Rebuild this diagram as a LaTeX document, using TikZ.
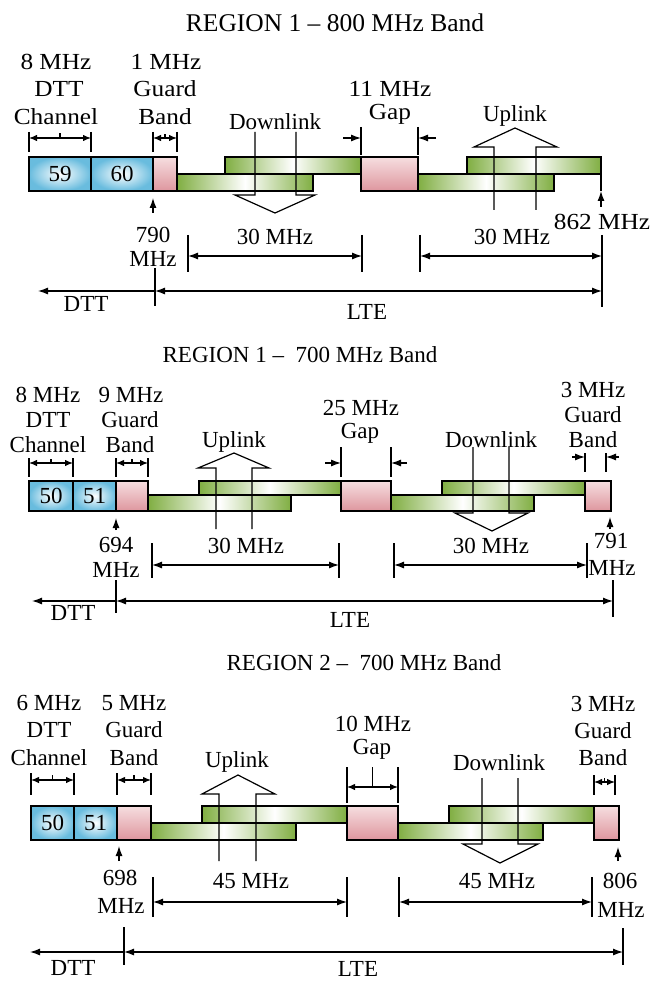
\documentclass[tikz,border=0pt]{standalone}
\usepackage{fontspec}
\setmainfont{Liberation Serif}
\usetikzlibrary{arrows.meta}
\definecolor{chblue}{RGB}{105,188,222}
\definecolor{gbpink}{RGB}{222,150,158}
\definecolor{gbpinkl}{RGB}{246,222,224}
\definecolor{bargreen}{RGB}{128,174,66}
\tikzset{
  lab/.style={inner sep=0pt, anchor=base, font=\fontsize{23}{27}\selectfont},
  labw/.style={lab, xscale=1.1, transform shape},
  ttl/.style={inner sep=0pt, anchor=base},
  thk/.style={line width=1.2pt},
  outl/.style={line width=1.2pt, draw=black},
  dbl/.style={line width=1.2pt, {Latex[length=10pt,width=7pt]}-{Latex[length=10pt,width=7pt]}},
  sdbl/.style={line width=1.2pt, {Latex[length=8pt,width=6.5pt]}-{Latex[length=8pt,width=6.5pt]}},
  sgl/.style={line width=1.2pt, -{Latex[length=10pt,width=7pt]}},
  hollow/.style={line width=1.2pt, line join=miter}
}
% channel box: name, x1, x2, ytop, ybot, text
\newcommand\chbox[6]{%
  \shade[inner color=white, outer color=chblue] (#2,#4) rectangle (#3,#5);
  \draw[outl] (#2,#4) rectangle (#3,#5);
  \node[inner sep=0pt, font=\fontsize{23}{27}\selectfont] (#1) at ({(#2+#3)/2},{(#4+#5)/2}) {#6};}
% pink box
\newcommand\pkbox[5]{%
  \shade[top color=gbpinkl, bottom color=gbpink] (#2,#4) rectangle (#3,#5);
  \draw[outl] (#2,#4) rectangle (#3,#5);
  \coordinate (#1) at ({(#2+#3)/2},{(#4+#5)/2});}
% green bar
\newcommand\gbar[5]{%
  \shade[left color=bargreen, right color=bargreen, middle color=white] (#2,#4) rectangle (#3,#5);
  \draw[outl] (#2,#4) rectangle (#3,#5);
  \coordinate (#1) at ({(#2+#3)/2},{(#4+#5)/2});}
% bracket with inner double arrow: name, xL, xR, ytop, ybot, yarr, ystub
\newcommand\brin[7]{%
  \coordinate (#1L) at (#2,#6); \coordinate (#1R) at (#3,#6);
  \draw[thk] (#2,#4)--(#2,#5); \draw[thk] (#3,#4)--(#3,#5);
  \draw[thk] ({(#2+#3)/2},#6)--({(#2+#3)/2},#7);
  \draw[sdbl] (#1L)--(#1R);}
% bracket with outer arrows: name, xL, xR, ytop, ybot, yarr, len
\newcommand\brout[7]{%
  \coordinate (#1L) at (#2,#6); \coordinate (#1R) at (#3,#6);
  \coordinate (#1LL) at ({#2-#7},#6); \coordinate (#1RR) at ({#3+#7},#6);
  \draw[thk] (#2,#4)--(#2,#5); \draw[thk] (#3,#4)--(#3,#5);
  \draw[sgl] (#1LL)--(#1L); \draw[sgl] (#1RR)--(#1R);}
% dimension line: name, xL, xR, ytop, ybotL, ybotR, yarr
\newcommand\dimlin[7]{%
  \coordinate (#1L) at (#2,#7); \coordinate (#1R) at (#3,#7);
  \draw[thk] (#2,#4)--(#2,#5); \draw[thk] (#3,#4)--(#3,#6);
  \draw[dbl] (#1L)--(#1R);}
\newcommand\lbl[4]{\node[lab] (#1) at (#2,#3) {#4};}
\newcommand\lblw[4]{\node[labw] (#1) at (#2,#3) {#4};}

\begin{document}
\begin{tikzpicture}[x=1pt,y=-1pt]
\useasboundingbox (0,0) rectangle (654,981);

%================ SECTION 1 =================
\node[ttl, font=\fontsize{25.5}{30}\selectfont] (t1) at (335,32) {REGION 1 – 800 MHz Band};

\gbar{la1}{177}{313}{174}{191}
\gbar{ua1}{225}{361}{157}{174}
\gbar{lb1}{418}{554}{174}{191}
\gbar{ub1}{467}{601}{157}{174}
\chbox{b59}{29}{91}{157}{191}{59}
\chbox{b60}{91}{153}{157}{191}{60}
\pkbox{g1}{153}{177}{157}{191}
\pkbox{gap1}{361}{418}{157}{191}

\brin{d1}{29}{91}{132}{152}{138}{133}
\brin{gb1}{153}{177}{132}{152}{138}{134}
\brout{gp1}{361}{418}{127}{155}{138}{18}

\lblw{l1a}{56}{70}{8 MHz}
\lblw{l1b}{59}{97}{DTT}
\lblw{l1c}{56}{125}{Channel}
\lblw{l1d}{166}{70}{1 MHz}
\lblw{l1e}{165}{97}{Guard}
\lblw{l1f}{165}{125}{Band}
\lblw{l1g}{390}{97}{11 MHz}
\lblw{l1h}{390}{120}{Gap}
\lbl{dl1}{275}{130}{Downlink}
\lbl{ul1}{515}{122}{Uplink}

\draw[hollow] (255,132)--(255,195)--(235,195)--(275,213)--(315,195)--(296,195)--(296,132);
\draw[hollow] (494,210)--(494,147)--(474,147)--(515,128)--(557,147)--(536,147)--(536,210);

\coordinate (f790a) at (153,213); \coordinate (f790b) at (153,198);
\draw[sgl] (f790a)--(f790b);
\lbl{n790}{153}{243}{790}
\lbl{m790}{153}{267}{MHz}
\coordinate (f862t) at (601,174); \coordinate (f862a) at (601,207); \coordinate (f862b) at (601,191);
\draw[thk] (f862t)--(f862b);
\draw[sgl] (f862a)--(f862b);
\lblw{n862}{602}{230}{862 MHz}

\dimlin{da1}{188}{362}{235}{272}{272}{256}
\dimlin{db1}{420}{602}{235}{272}{307}{256}
\lbl{w1a}{275}{245}{30 MHz}
\lbl{w1b}{512}{245}{30 MHz}

\coordinate (s1) at (155,291); \coordinate (s1d) at (38,291); \coordinate (s1e) at (602,291);
\draw[thk] (155,268)--(155,306);
\draw[sgl] (s1)--(s1d);
\draw[dbl] (s1)--(s1e);
\lbl{dtt1}{86}{311}{DTT}
\lbl{lte1}{367}{319}{LTE}

%================ SECTION 2 =================
\node[ttl, font=\fontsize{23}{27}\selectfont] (t2) at (300,362) {REGION 1 –~~700 MHz Band};

\gbar{la2}{148}{291}{495}{511}
\gbar{ua2}{199}{341}{481}{495}
\gbar{lb2}{391}{534}{495}{511}
\gbar{ub2}{442}{585}{481}{495}
\chbox{b50a}{29}{73}{481}{511}{50}
\chbox{b51a}{73}{116}{481}{511}{51}
\pkbox{g2}{116}{148}{481}{511}
\pkbox{gap2}{341}{391}{481}{511}
\pkbox{g2b}{585}{611}{481}{511}

\brin{d2}{29}{73}{458}{477}{463}{459}
\brin{gb2}{116}{148}{458}{477}{463}{459}
\brout{gp2}{341}{391}{447}{477}{463}{16}
\brout{gr2}{585}{606}{453}{472}{457}{13}

\lbl{l2a}{48}{402}{8 MHz}
\lbl{l2b}{48}{427}{DTT}
\lbl{l2c}{48}{452}{Channel}
\lbl{l2d}{131}{402}{9 MHz}
\lbl{l2e}{130}{427}{Guard}
\lbl{l2f}{130}{452}{Band}
\lbl{l2g}{361}{415}{25 MHz}
\lbl{l2h}{360}{438}{Gap}
\lbl{l2i}{593}{397}{3 MHz}
\lbl{l2j}{593}{422}{Guard}
\lbl{l2k}{593}{447}{Band}
\lbl{ul2}{234}{447}{Uplink}
\lbl{dl2}{491}{447}{Downlink}

\draw[hollow] (216,529)--(216,468)--(198,468)--(234,453)--(269,468)--(252,468)--(252,529);
\draw[hollow] (473,447)--(473,513)--(455,513)--(492,531)--(528,513)--(509,513)--(509,447);

\coordinate (f694a) at (116,530); \coordinate (f694b) at (116,518);
\draw[sgl] (f694a)--(f694b);
\lbl{n694}{116}{552}{694}
\lbl{m694}{116}{577}{MHz}
\coordinate (f791a) at (610,529); \coordinate (f791b) at (610,517);
\draw[sgl] (f791a)--(f791b);
\lbl{n791}{611}{548}{791}
\lbl{m791}{612}{575}{MHz}

\dimlin{da2}{152}{339}{543}{578}{578}{565}
\dimlin{db2}{394}{587}{543}{578}{578}{565}
\lbl{w2a}{246}{553}{30 MHz}
\lbl{w2b}{491}{553}{30 MHz}

\coordinate (s2) at (116,601); \coordinate (s2d) at (32,601); \coordinate (s2e) at (613,601);
\draw[thk] (116,580)--(116,613);
\draw[thk] (613,580)--(613,617);
\draw[sgl] (s2)--(s2d);
\draw[dbl] (s2)--(s2e);
\lbl{dtt2}{73}{620}{DTT}
\lbl{lte2}{350}{627}{LTE}

%================ SECTION 3 =================
\node[ttl, font=\fontsize{23}{27}\selectfont] (t3) at (364,670) {REGION 2 –~~700 MHz Band};

\gbar{la3}{151}{296}{823}{840}
\gbar{ua3}{202}{347}{806}{823}
\gbar{lb3}{398}{543}{823}{840}
\gbar{ub3}{449}{594}{806}{823}
\chbox{b50b}{31}{74}{806}{840}{50}
\chbox{b51b}{74}{117}{806}{840}{51}
\pkbox{g3}{117}{151}{806}{840}
\pkbox{gap3}{347}{398}{806}{840}
\pkbox{g3b}{594}{619}{806}{840}

\brin{d3}{31}{74}{773}{795}{780}{775}
\brin{gb3}{117}{151}{773}{795}{780}{775}
\brin{gp3}{347}{398}{767}{803}{787}{767}
\brin{gr3}{594}{615}{775}{795}{782}{778}

\lbl{l3a}{49}{710}{6 MHz}
\lbl{l3b}{49}{737}{DTT}
\lbl{l3c}{49}{765}{Channel}
\lbl{l3d}{134}{710}{5 MHz}
\lbl{l3e}{134}{737}{Guard}
\lbl{l3f}{134}{765}{Band}
\lbl{l3g}{373}{731}{10 MHz}
\lbl{l3h}{372}{754}{Gap}
\lbl{l3i}{603}{711}{3 MHz}
\lbl{l3j}{603}{738}{Guard}
\lbl{l3k}{603}{765}{Band}
\lbl{ul3}{237}{767}{Uplink}
\lbl{dl3}{499}{770}{Downlink}

\draw[hollow] (219,861)--(219,794)--(202,794)--(238,775)--(275,794)--(256,794)--(256,861);
\draw[hollow] (482,778)--(482,844)--(463,844)--(500,863)--(538,844)--(518,844)--(518,778);

\coordinate (f698a) at (119,861); \coordinate (f698b) at (119,846);
\draw[sgl] (f698a)--(f698b);
\lbl{n698}{120}{885}{698}
\lbl{m698}{121}{913}{MHz}
\coordinate (f806a) at (618,861); \coordinate (f806b) at (618,847);
\draw[sgl] (f806a)--(f806b);
\lbl{n806}{620}{888}{806}
\lbl{m806}{621}{917}{MHz}

\dimlin{da3}{153}{347}{877}{917}{917}{902}
\dimlin{db3}{399}{592}{877}{917}{917}{902}
\lbl{w3a}{251}{888}{45 MHz}
\lbl{w3b}{497}{888}{45 MHz}

\coordinate (s3) at (124,952); \coordinate (s3d) at (30,952); \coordinate (s3e) at (623,952);
\draw[thk] (124,927)--(124,965);
\draw[thk] (623,928)--(623,965);
\draw[sgl] (s3)--(s3d);
\draw[dbl] (s3)--(s3e);
\lbl{dtt3}{73}{975}{DTT}
\lbl{lte3}{358}{976}{LTE}
\end{tikzpicture}
\end{document}
